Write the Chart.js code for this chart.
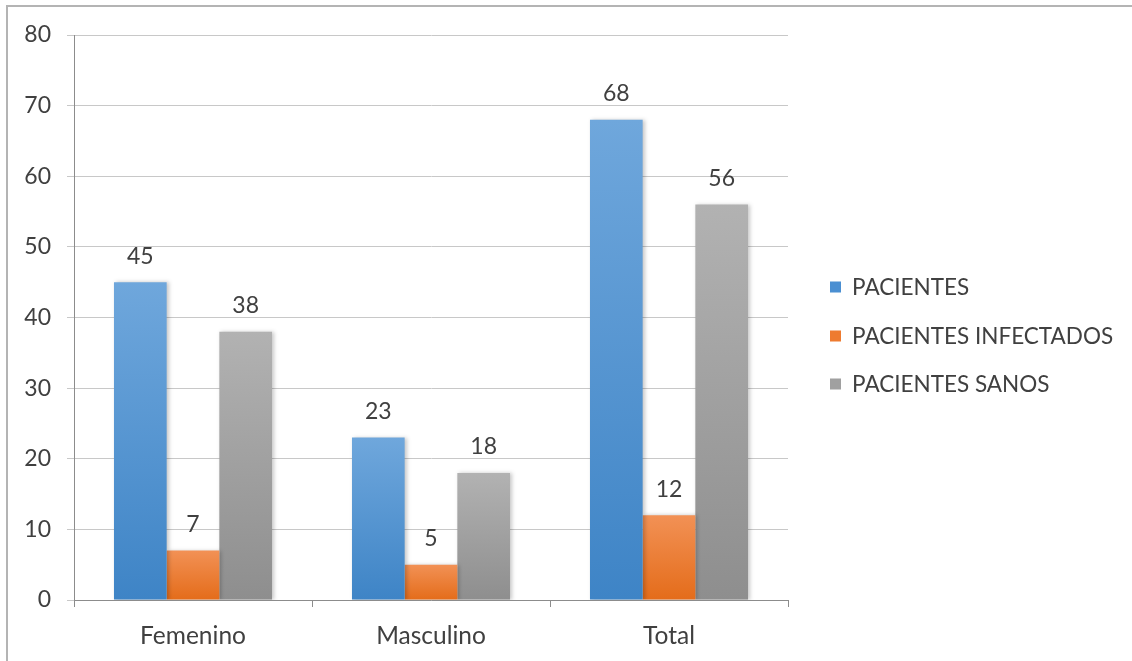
<!DOCTYPE html>
<html lang="es">
<head>
<meta charset="utf-8">
<title>Pacientes</title>
<script src="https://cdn.jsdelivr.net/npm/chart.js@4.4.1/dist/chart.umd.min.js"></script>
<style>
    html, body { margin: 0; padding: 0; background: #fff; overflow: hidden; }
    #wrap { position: relative; width: 1132px; height: 661px; }
    #marco {
        position: absolute; left: 6px; top: 5px; width: 1200px; height: 700px;
        border-top: 2px solid #b4b4b4; border-left: 2px solid #b4b4b4;
        pointer-events: none;
    }
    canvas { position: absolute; left: 0; top: 0; }
</style>
</head>
<body>
<div id="wrap">
    <canvas id="grafico" width="1132" height="661"></canvas>
    <div id="marco"></div>
</div>
<script>
// Datos
const categorias = ['Femenino', 'Masculino', 'Total'];
const pacientes = [45, 23, 68];
const infectados = [7, 5, 12];
const sanos = [38, 18, 56];
const ticksY = [0, 10, 20, 30, 40, 50, 60, 70, 80];

const fuente = 'Lato, "Open Sans", sans-serif';
const colorTexto = '#404040';

// Degradado vertical por barra (claro arriba, oscuro abajo)
function degradado(claro, oscuro) {
    return ctx => {
        const chart = ctx.chart;
        const y = chart.scales.y;
        if (!y || ctx.parsed == null || !chart.chartArea) return oscuro;
        const top = y.getPixelForValue(ctx.parsed.y);
        const base = y.getPixelForValue(0);
        if (!isFinite(top) || !isFinite(base) || top === base) return oscuro;
        const g = chart.ctx.createLinearGradient(0, top, 0, base);
        g.addColorStop(0, claro);
        g.addColorStop(1, oscuro);
        return g;
    };
}

// Sombra suave de las barras
const sombraPlugin = {
    id: 'sombra',
    beforeDatasetsDraw(chart) {
        const c = chart.ctx;
        c.save();
        c.shadowColor = 'rgba(0,0,0,0.22)';
        c.shadowBlur = 4;
        c.shadowOffsetX = 2;
        c.shadowOffsetY = 0;
    },
    afterDatasetsDraw(chart) {
        chart.ctx.restore();
    }
};

// Etiquetas de valor encima de cada barra
const etiquetasPlugin = {
    id: 'etiquetas',
    afterDatasetsDraw(chart) {
        const c = chart.ctx;
        c.save();
        c.font = '23px ' + fuente;
        c.fillStyle = colorTexto;
        c.textAlign = 'center';
        c.textBaseline = 'middle';
        chart.data.datasets.forEach((ds, i) => {
            chart.getDatasetMeta(i).data.forEach((bar, j) => {
                c.fillText(String(ds.data[j]), bar.x, bar.y - 26);
            });
        });
        c.restore();
    }
};

// Leyenda a la derecha
const leyendaPlugin = {
    id: 'leyenda',
    afterDraw(chart) {
        const c = chart.ctx;
        const x = chart.chartArea.right + 42;
        const ys = [287, 336, 384];
        c.save();
        c.font = '22.5px ' + fuente;
        c.textBaseline = 'middle';
        c.textAlign = 'left';
        chart.data.datasets.forEach((ds, i) => {
            c.fillStyle = ds.colorLeyenda;
            c.fillRect(x, ys[i] - 5.5, 11, 11);
            c.fillStyle = colorTexto;
            c.fillText(ds.label, x + 22, ys[i] + 1);
        });
        c.restore();
    }
};

const chart = new Chart(document.getElementById('grafico'), {
    type: 'bar',
    data: {
        labels: categorias,
        datasets: [
            {
                label: 'PACIENTES',
                data: pacientes,
                backgroundColor: degradado('#6fa7dc', '#3e84c6'),
                colorLeyenda: '#4a8fd2',
            },
            {
                label: 'PACIENTES INFECTADOS',
                data: infectados,
                backgroundColor: degradado('#f29155', '#e46c1a'),
                colorLeyenda: '#ee7b30',
            },
            {
                label: 'PACIENTES SANOS',
                data: sanos,
                backgroundColor: degradado('#b2b2b2', '#8e8e8e'),
                colorLeyenda: '#a0a0a0',
            },
        ],
    },
    options: {
        responsive: false,
        animation: false,
        devicePixelRatio: 1,
        layout: { padding: { top: 35, right: 344, left: 0, bottom: 0 } },
        datasets: {
            bar: { categoryPercentage: 0.664, barPercentage: 1, borderWidth: 0 },
        },
        scales: {
            x: {
                grid: {
                    offset: true,
                    drawOnChartArea: false,
                    drawTicks: true,
                    tickLength: 7,
                    color: '#8c8c8c',
                    lineWidth: 1,
                },
                border: { color: '#8c8c8c', width: 1 },
                ticks: { color: colorTexto, font: { family: fuente, size: 24.5 }, padding: 14 },
                afterFit: s => { s.height = 61; },
            },
            y: {
                min: 0,
                max: 80,
                afterBuildTicks: s => { s.ticks = ticksY.map(v => ({ value: v })); },
                grid: { color: '#c8c8c8', lineWidth: 1, tickLength: 7 },
                border: { color: '#8c8c8c', width: 1 },
                ticks: { color: colorTexto, font: { family: fuente, size: 23 }, padding: 16 },
                afterFit: s => { s.width = 74; },
            },
        },
        plugins: {
            legend: { display: false },
            tooltip: { enabled: false },
        },
    },
    plugins: [sombraPlugin, etiquetasPlugin, leyendaPlugin],
});
</script>
</body>
</html>
